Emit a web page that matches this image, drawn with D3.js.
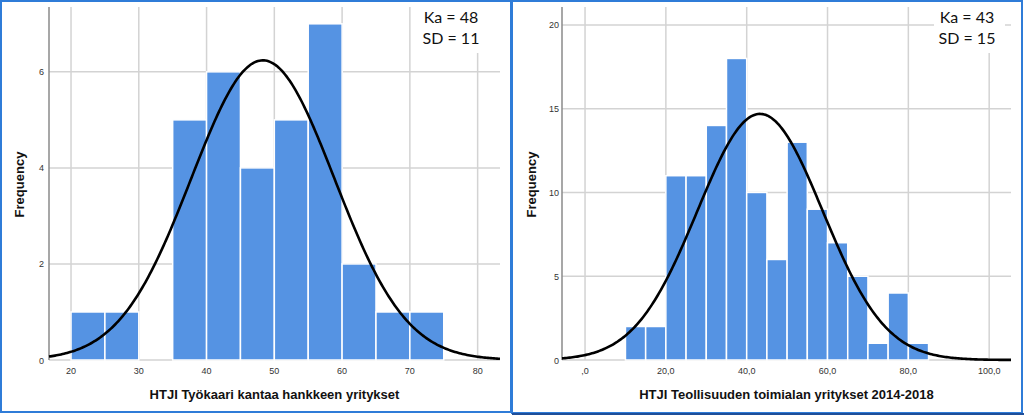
<!DOCTYPE html>
<html><head><meta charset="utf-8">
<script src="https://cdn.jsdelivr.net/npm/d3@7"></script>
<style>html,body{margin:0;padding:0;background:#fff;}svg{display:block;}</style>
</head><body>
<svg id="c" width="1024" height="415"></svg>
<script>
// ---- Data ----
const leftBinStarts = [20,25,30,35,40,45,50,55,60,65,70];
const leftCounts    = [1,1,0,5,6,4,5,7,2,1,1];
const leftXTicks    = [20,30,40,50,60,70,80];
const leftYTicks    = [0,2,4,6];
const leftMean = 48.3, leftSD = 10.55, leftBinWidth = 5;
const leftTitle = "HTJI Työkaari kantaa hankkeen yritykset";
const leftStats = ["Ka = 48","SD = 11"];

const rightBinStarts = [10,15,20,25,30,35,40,45,50,55,60,65,70,75,80];
const rightCounts    = [2,2,11,11,14,18,10,6,13,9,7,5,1,4,1];
const rightXTicks    = [0,20,40,60,80,100];
const rightXTickLabels = [",0","20,0","40,0","60,0","80,0","100,0"];
const rightYTicks    = [0,5,10,15,20];
const rightMean = 43.3, rightSD = 15.48, rightBinWidth = 5;
const rightTitle = "HTJI Teollisuuden toimialan yritykset 2014-2018";
const rightStats = ["Ka = 43","SD = 15"];

const svg = d3.select("#c");
const BAR = "#5593e3", GRID = "#d3d3d3";

function panel(o){
  const g = svg.append("g");
  const x = d3.scaleLinear().domain(o.xDomain).range(o.xRange);
  const y = d3.scaleLinear().domain(o.yDomain).range([360,7]);
  // vertical grid
  g.selectAll(".vg").data(o.xTicks).join("line")
    .attr("x1",d=>x(d)).attr("x2",d=>x(d)).attr("y1",y.range()[1]).attr("y2",y(0))
    .attr("stroke",GRID).attr("stroke-width",1.5);
  // horizontal grid
  g.selectAll(".hg").data(o.yTicks).join("line")
    .attr("x1",o.xRange[0]).attr("x2",o.xRange[1]).attr("y1",d=>y(d)).attr("y2",d=>y(d))
    .attr("stroke",GRID).attr("stroke-width",1.5);
  // stats box (white, hides grid)
  g.append("rect").attr("x",o.box[0]).attr("y",o.box[1]).attr("width",o.box[2]).attr("height",o.box[3]).attr("fill","#fff");
  g.selectAll(".st").data(o.stats).join("text")
    .attr("x",o.statX).attr("y",(d,i)=>23+i*21).attr("text-anchor","middle")
    .attr("font-family","Lato, 'Open Sans', sans-serif").attr("font-size",16).attr("fill","#111").text(d=>d);
  // bars
  const bins = o.starts.map((s,i)=>({s, c:o.counts[i]})).filter(b=>b.c>0);
  g.selectAll(".bar").data(bins).join("rect")
    .attr("x",d=>x(d.s)).attr("width",d=>x(d.s+o.bw)-x(d.s))
    .attr("y",d=>y(d.c)).attr("height",d=>y(0)-y(d.c))
    .attr("fill",BAR).attr("stroke","#fff").attr("stroke-width",1.5);
  // y axis line
  g.append("line").attr("x1",o.xRange[0]).attr("x2",o.xRange[0]).attr("y1",7).attr("y2",360)
    .attr("stroke","#8a8a8a").attr("stroke-width",1.5);
  // normal curve
  const n = d3.sum(o.counts);
  const pts = d3.range(0,301).map(i=>{
    const v = o.xDomain[0] + (o.xDomain[1]-o.xDomain[0])*i/300;
    const f = n*o.bw/(o.sd*Math.sqrt(2*Math.PI))*Math.exp(-0.5*((v-o.mean)/o.sd)**2);
    return [x(v), y(f)];
  });
  g.append("path").attr("d",d3.line()(pts)).attr("fill","none").attr("stroke","#000").attr("stroke-width",2.6);
  // tick labels
  g.selectAll(".xt").data(o.xTicks).join("text")
    .attr("x",d=>x(d)).attr("y",374).attr("text-anchor","middle")
    .attr("font-family","'Liberation Sans', Arial, sans-serif").attr("font-size",9).attr("fill","#333")
    .text((d,i)=>o.xLabels[i]);
  g.selectAll(".yt").data(o.yTicks).join("text")
    .attr("x",o.yLabelX).attr("y",d=>y(d)+3.5).attr("text-anchor","end")
    .attr("font-family","'Liberation Sans', Arial, sans-serif").attr("font-size",9).attr("fill","#333")
    .text(d=>d);
  // axis titles
  g.append("text").attr("x",(o.xRange[0]+o.xRange[1])/2).attr("y",399).attr("text-anchor","middle")
    .attr("font-family","'Liberation Sans', Arial, sans-serif").attr("font-weight","bold").attr("font-size",13).attr("fill","#111")
    .text(o.title);
  g.append("text").attr("transform",`translate(${o.freqX},184.5) rotate(-90)`).attr("text-anchor","middle")
    .attr("font-family","'Liberation Sans', Arial, sans-serif").attr("font-weight","bold").attr("font-size",13).attr("fill","#111")
    .text("Frequency");
}

panel({xDomain:[16.75,83.3], xRange:[49,500], yDomain:[0,7.35],
  xTicks:leftXTicks, xLabels:leftXTicks.map(String), yTicks:leftYTicks,
  starts:leftBinStarts, counts:leftCounts, bw:leftBinWidth, mean:leftMean, sd:leftSD,
  stats:leftStats, statX:451, box:[413,2,82,51], yLabelX:44, freqX:24, title:leftTitle});

panel({xDomain:[-5.7,105.4], xRange:[562,1011], yDomain:[0,21.07],
  xTicks:rightXTicks, xLabels:rightXTickLabels, yTicks:rightYTicks,
  starts:rightBinStarts, counts:rightCounts, bw:rightBinWidth, mean:rightMean, sd:rightSD,
  stats:rightStats, statX:967, box:[934,2,71,51], yLabelX:559, freqX:536, title:rightTitle});

// panel borders
svg.append("rect").attr("x",1).attr("y",1).attr("width",510).attr("height",411)
  .attr("fill","none").attr("stroke","#2f7cd8").attr("stroke-width",2);
svg.append("rect").attr("x",512).attr("y",1).attr("width",510).attr("height",412)
  .attr("fill","none").attr("stroke","#2f7cd8").attr("stroke-width",2);
svg.append("line").attr("x1",512).attr("x2",1024).attr("y1",414).attr("y2",414).attr("stroke","#1f4f9a").attr("stroke-width",2);
</script>
</body></html>
